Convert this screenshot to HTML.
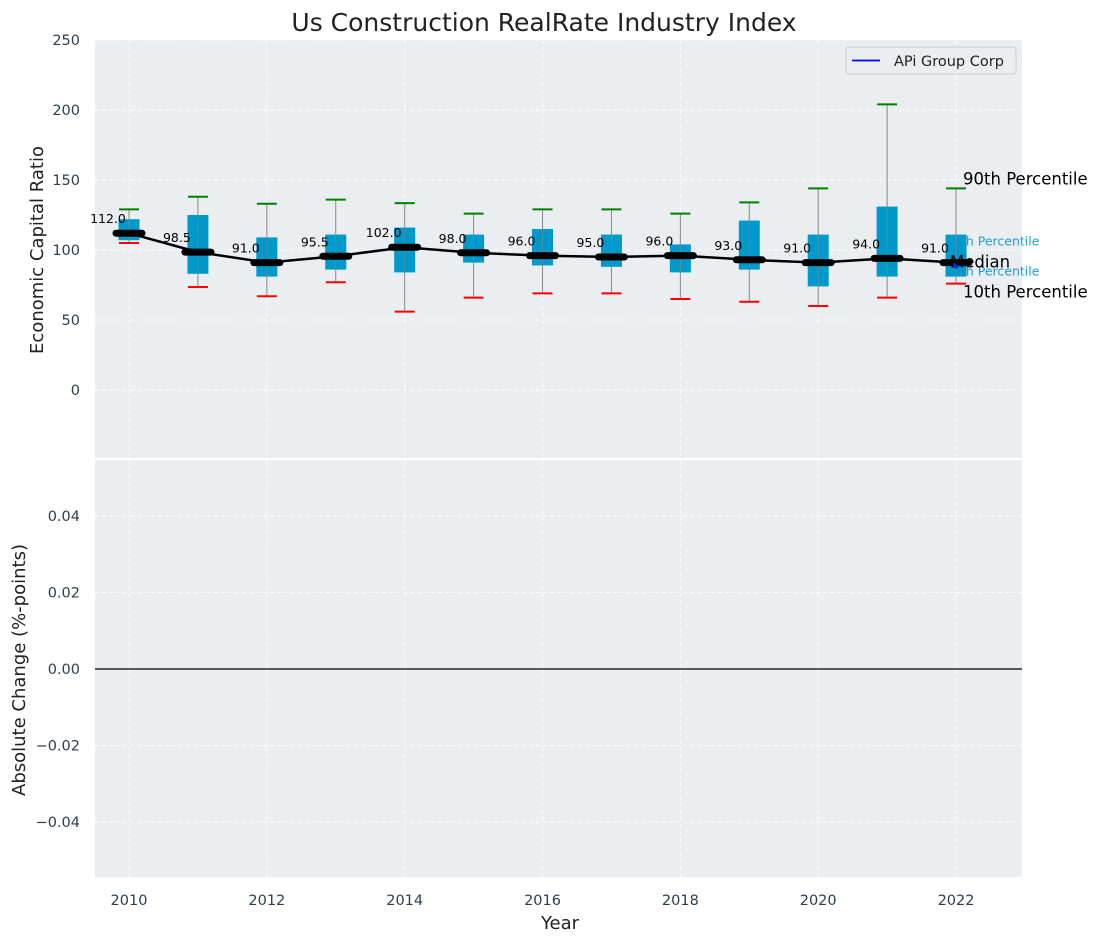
<!DOCTYPE html>
<html><head><meta charset="utf-8"><style>
body{margin:0;background:#fff;font-family:"Liberation Sans","DejaVu Sans",sans-serif}
svg text{font-family:"DejaVu Sans","Liberation Sans",sans-serif}
</style></head><body>
<svg id="chart" width="1098" height="942" xmlns="http://www.w3.org/2000/svg"></svg>
<script>
const years=[2010,2011,2012,2013,2014,2015,2016,2017,2018,2019,2020,2021,2022];
const medians=[112,98.5,91,95.5,102,98,96,95,96,93,91,94,91];
const q1=[107,83,81,86,84,91,89,88,84,86,74,81,81];
const q3=[122,125,109,111,116,111,115,111,104,121,111,131,111];
const p10=[105,73.6,67,77,56,66,69,69,65,63,60,66,76];
const p90=[129,138,133,136,133.5,126,129,129,126,134,144,204,144];
const topTicks=[0,50,100,150,200,250];
const botTicks=[-0.04,-0.02,0,0.02,0.04];
const xTicks=[2010,2012,2014,2016,2018,2020,2022];
const NS="http://www.w3.org/2000/svg";
const svg=document.getElementById('chart');
function el(t,a,txt){const e=document.createElementNS(NS,t);for(const k in a)e.setAttribute(k,a[k]);if(txt!==undefined)e.textContent=txt;svg.appendChild(e);return e;}
const X=v=>129+(v-2010)*68.92;
const Y1=v=>390-v*1.4;
const Y2=v=>669-v*3825;
const BG='#eaeef0';
let e=el('rect',{x:95,y:40,width:927,height:418,fill:BG});

e=el('rect',{x:95,y:460,width:927,height:417,fill:BG});

xTicks.forEach(t=>{
 el('line',{x1:X(t),x2:X(t),y1:40,y2:458,stroke:'#fff','stroke-dasharray':'4,3','stroke-width':0.8});
 el('line',{x1:X(t),x2:X(t),y1:460,y2:877,stroke:'#fff','stroke-dasharray':'4,3','stroke-width':0.8});
 e=el('text',{x:X(t),y:905,'text-anchor':'middle','font-size':14.5,fill:'#2c3e50'},t);
 
});
topTicks.forEach(t=>{
 el('line',{x1:95,x2:1022,y1:Y1(t),y2:Y1(t),stroke:'#fff','stroke-dasharray':'4,3','stroke-width':0.8});
 e=el('text',{x:80,y:Y1(t)+5,'text-anchor':'end','font-size':14.5,fill:'#2c3e50'},t);
 
});
botTicks.forEach(t=>{
 el('line',{x1:95,x2:1022,y1:Y2(t),y2:Y2(t),stroke:'#fff','stroke-dasharray':'4,3','stroke-width':0.8});
 e=el('text',{x:80,y:Y2(t)+5,'text-anchor':'end','font-size':14.5,fill:'#2c3e50'},(t<0?'\u2212':'')+Math.abs(t).toFixed(2));
 
});
e=el('line',{x1:95,x2:1022,y1:Y2(0),y2:Y2(0),stroke:'#000','stroke-width':1.2});

const lx=X(2022);
e=el('text',{x:lx-11,y:Y1(medians[12])-17,'font-size':12.5,fill:'#1a9fd0'},'75th Percentile');

e=el('text',{x:lx-11,y:Y1(medians[12])+13,'font-size':12.5,fill:'#1a9fd0'},'25th Percentile');

years.forEach((y,i)=>{
 const x=X(y);
 e=el('line',{x1:x,x2:x,y1:Y1(p90[i]),y2:Y1(p10[i]),stroke:'#888','stroke-width':1});
 
 e=el('rect',{x:x-10.5,y:Y1(q3[i]),width:21,height:Y1(q1[i])-Y1(q3[i]),fill:'#0099cc'});
 
 el('line',{x1:x,x2:x,y1:Y1(q3[i]),y2:Y1(q1[i]),stroke:'#888','stroke-width':1,opacity:0.6});
 e=el('line',{x1:x-10,x2:x+10,y1:Y1(p90[i]),y2:Y1(p90[i]),stroke:'green','stroke-width':2});
 
 e=el('line',{x1:x-10,x2:x+10,y1:Y1(p10[i]),y2:Y1(p10[i]),stroke:'red','stroke-width':2});
 
});
e=el('polyline',{points:years.map((y,i)=>X(y)+','+Y1(medians[i])).join(' '),fill:'none',stroke:'#000','stroke-width':2.5});

years.forEach((y,i)=>{
 const x=X(y);
 e=el('line',{x1:x-13,x2:x+13,y1:Y1(medians[i]),y2:Y1(medians[i]),stroke:'#000','stroke-width':7,'stroke-linecap':'round'});
 
 e=el('text',{x:x-21,y:Y1(medians[i])-10,'text-anchor':'middle','font-size':12.5,fill:'#000'},medians[i].toFixed(1));
 
});
el('circle',{cx:lx,cy:Y1(medians[12])+3,r:3,fill:'#1030c0'});
e=el('text',{x:lx+7,y:Y1(p90[12])-4,'font-size':16.5,fill:'#000'},'90th Percentile');

e=el('text',{x:lx-6,y:Y1(medians[12])+5,'font-size':16.5,fill:'#000'},'Median');

e=el('text',{x:lx+7,y:Y1(p10[12])+14,'font-size':16.5,fill:'#000'},'10th Percentile');

e=el('rect',{x:846,y:47,width:170,height:27,rx:3,fill:BG,stroke:'#ccc'});

el('line',{x1:852,x2:880,y1:60.5,y2:60.5,stroke:'blue','stroke-width':1.8});
e=el('text',{x:894,y:66,'font-size':14.5,fill:'#222'},'APi Group Corp');

e=el('text',{x:544,y:31,'text-anchor':'middle','font-size':25,fill:'#222'},'Us Construction RealRate Industry Index');

e=el('text',{x:560,y:929,'text-anchor':'middle','font-size':18,fill:'#222'},'Year');

e=el('text',{x:0,y:0,'text-anchor':'middle','font-size':18,fill:'#222',transform:'translate(43,250) rotate(-90)'},'Economic Capital Ratio');

e=el('text',{x:0,y:0,'text-anchor':'middle','font-size':18,fill:'#222',transform:'translate(25,670) rotate(-90)'},'Absolute Change (%-points)');

</script>
</body></html>
